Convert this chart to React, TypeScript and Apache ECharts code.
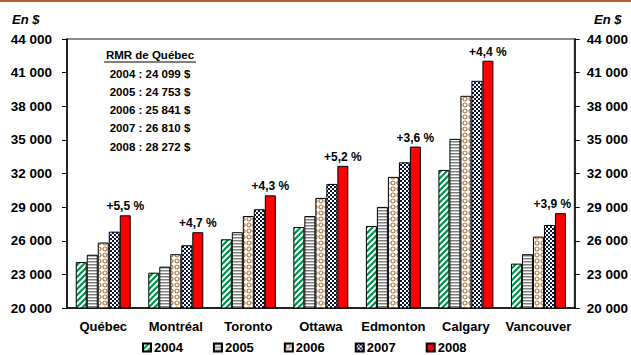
import React, { useEffect, useRef } from "react";
import * as echarts from "echarts";

const categories = ["Québec", "Montréal", "Toronto", "Ottawa", "Edmonton", "Calgary", "Vancouver"];
const years = ["2004", "2005", "2006", "2007", "2008"];
const v2004 = [24099, 23150, 26130, 27230, 27320, 32320, 23960];
const v2005 = [24753, 23690, 26760, 28200, 29020, 35090, 24800];
const v2006 = [25841, 24800, 28210, 29820, 31700, 38930, 26370];
const v2007 = [26810, 25600, 28810, 31070, 33000, 40270, 27410];
const v2008 = [28272, 26760, 30050, 32680, 34400, 42060, 28460];
const growth = ["+5,5 %", "+4,7 %", "+4,3 %", "+5,2 %", "+3,6 %", "+4,4 %", "+3,9 %"];
const boxTitle = "RMR de Québec";
const boxLines = ["2004 : 24 099 $", "2005 : 24 753 $", "2006 : 25 841 $", "2007 : 26 810 $", "2008 : 28 272 $"];
const yTicks = { min: 20000, max: 44000, interval: 3000 };

const FONT = "'Liberation Sans', Arial, sans-serif";

function makeCanvas(w: number, h: number, draw: (c: CanvasRenderingContext2D) => void) {
  const cv = document.createElement("canvas");
  cv.width = w;
  cv.height = h;
  const ctx = cv.getContext("2d")!;
  draw(ctx);
  return { image: cv, repeat: "repeat", imageWidth: w, imageHeight: h } as any;
}

function patterns() {
  const p2004 = makeCanvas(6, 6, (c) => {
    c.fillStyle = "#fff";
    c.fillRect(0, 0, 6, 6);
    c.strokeStyle = "#00924a";
    c.lineWidth = 2.2;
    c.beginPath();
    c.moveTo(-1, 7); c.lineTo(7, -1);
    c.moveTo(-4, 4); c.lineTo(4, -4);
    c.moveTo(2, 10); c.lineTo(10, 2);
    c.stroke();
  });
  const p2005 = makeCanvas(4, 3, (c) => {
    c.fillStyle = "#fff";
    c.fillRect(0, 0, 4, 3);
    c.fillStyle = "#808080";
    c.fillRect(0, 0, 4, 1.5);
  });
  const p2006 = makeCanvas(6, 6, (c) => {
    c.fillStyle = "#fff";
    c.fillRect(0, 0, 6, 6);
    c.strokeStyle = "#b07a48";
    c.lineWidth = 1.2;
    c.beginPath();
    c.arc(3, 3, 2, 0, Math.PI * 2);
    c.stroke();
  });
  const p2007 = makeCanvas(4, 4, (c) => {
    c.fillStyle = "#fff";
    c.fillRect(0, 0, 4, 4);
    c.fillStyle = "#0a1646";
    c.fillRect(0, 0, 2, 2);
    c.fillRect(2, 2, 2, 2);
  });
  return [p2004, p2005, p2006, p2007, "#ff0000"];
}

const fmt = (v: number) => {
  const s = String(Math.round(v));
  return s.replace(/\B(?=(\d{3})+(?!\d))/g, " ");
};

export default function App() {
  const ref = useRef<HTMLDivElement>(null);
  useEffect(() => {
    if (!ref.current) return;
    const chart = echarts.init(ref.current, null, { renderer: "svg" });
    const fills = patterns();
    const data = [v2004, v2005, v2006, v2007, v2008];
    const axisCommon = (margin: number) => ({
      type: "value",
      min: yTicks.min,
      max: yTicks.max,
      interval: yTicks.interval,
      splitLine: { show: false },
      axisLine: { show: true, lineStyle: { color: "#000", width: 1.5 } },
      axisTick: { show: true, length: 5, lineStyle: { color: "#000", width: 1 } },
      axisLabel: {
        margin,
        formatter: fmt,
        color: "#000",
        fontFamily: FONT,
        fontWeight: "bold",
        fontSize: 13.5,
      },
    });
    const boxX = 150;
    const graphics: any[] = [
      { type: "rect", left: 0, top: 0, shape: { width: 631, height: 2 }, style: { fill: "#b0642a" } },
      { type: "text", left: 12, top: 13, style: { text: "En $", font: `italic bold 13px ${FONT}`, fill: "#000" } },
      { type: "text", left: 594, top: 13, style: { text: "En $", font: `italic bold 13px ${FONT}`, fill: "#000" } },
      {
        type: "text", x: boxX, y: 55,
        style: { text: boxTitle, font: `bold 11.5px ${FONT}`, fill: "#000", align: "center", verticalAlign: "middle" },
      },
      { type: "line", shape: { x1: boxX - 46, y1: 62, x2: boxX + 46, y2: 62 }, style: { stroke: "#000", lineWidth: 1 } },
    ];
    boxLines.forEach((t, i) => {
      graphics.push({
        type: "text", x: boxX, y: 73.5 + i * 18.3,
        style: { text: t, font: `bold 11.5px ${FONT}`, fill: "#000", align: "center", verticalAlign: "middle" },
      });
    });
    const lastIdx = categories.length - 1;
    chart.setOption({
      animation: false,
      grid: { left: 67, right: 54, top: 39, bottom: 47, show: true, borderColor: "#8a8a8a", borderWidth: 2, backgroundColor: "transparent" },
      legend: {
        data: years,
        left: 142,
        top: 341,
        padding: 0,
        itemWidth: 8,
        itemHeight: 8,
        itemGap: 30,
        icon: "rect",
        textStyle: { fontFamily: FONT, fontWeight: "bold", fontSize: 13, color: "#000", padding: [0, 0, 0, -2] },
      },
      xAxis: {
        type: "category",
        data: categories,
        axisLine: { lineStyle: { color: "#000", width: 1.5 } },
        axisTick: { show: false },
        axisLabel: { margin: 12, color: "#000", fontFamily: FONT, fontWeight: "bold", fontSize: 13, interval: 0 },
      },
      yAxis: [
        { ...axisCommon(15), position: "left" },
        { ...axisCommon(12), position: "right" },
      ],
      series: years.map((y, i) => ({
        name: y,
        type: "bar",
        data:
          i === 4
            ? data[i].map((v, j) => (j === lastIdx ? { value: v, label: { offset: [-8, 0] } } : v))
            : data[i],
        barWidth: 11,
        barGap: "0%",
        itemStyle: { color: fills[i], borderColor: "#000", borderWidth: 1 },
        label:
          i === 4
            ? {
                show: true,
                position: "top",
                distance: 3,
                formatter: (p: any) => growth[p.dataIndex],
                fontFamily: FONT,
                fontWeight: "bold",
                fontSize: 12,
                color: "#000",
              }
            : { show: false },
      })),
      graphic: graphics,
    });
    return () => chart.dispose();
  }, []);
  return <div ref={ref} style={{ position: "absolute", left: 0, top: 0, width: 631, height: 355 }} />;
}
